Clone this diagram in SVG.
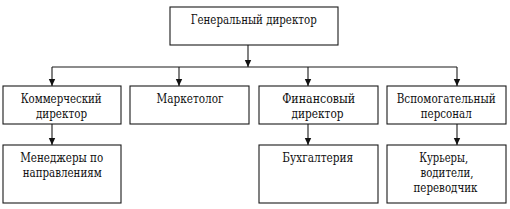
<svg xmlns="http://www.w3.org/2000/svg" width="510" height="209" viewBox="0 0 510 209">
<style>
.box{fill:#fff;stroke:#1a1a1a;stroke-width:1.1}
.ln{stroke:#1a1a1a;stroke-width:1.1;fill:none}
.t{font-family:'DejaVu Serif Condensed','DejaVu Serif',serif;font-size:12.5px;fill:#111;text-anchor:middle}
</style>
<defs>
<marker id="ah" markerWidth="8" markerHeight="8" refX="7" refY="3.5" orient="auto" markerUnits="userSpaceOnUse">
<path d="M0,0.3 L7,3.5 L0,6.7 Z" fill="#111"/>
</marker>
</defs>
<rect width="510" height="209" fill="#fff"/>
<g id="connectors">
<line class="ln" x1="248" y1="45" x2="248" y2="67" marker-end="url(#ah)"/>
<line class="ln" x1="52" y1="67" x2="457" y2="67"/>
<line class="ln" x1="52" y1="67" x2="52" y2="86" marker-end="url(#ah)"/>
<line class="ln" x1="179" y1="67" x2="179" y2="86" marker-end="url(#ah)"/>
<line class="ln" x1="308" y1="67" x2="308" y2="86" marker-end="url(#ah)"/>
<line class="ln" x1="457" y1="67" x2="457" y2="86" marker-end="url(#ah)"/>
<line class="ln" x1="52" y1="124" x2="52" y2="145" marker-end="url(#ah)"/>
<line class="ln" x1="308" y1="124" x2="308" y2="145" marker-end="url(#ah)"/>
<line class="ln" x1="457" y1="124" x2="457" y2="145" marker-end="url(#ah)"/>
</g>
<g id="gen"><rect class="box" x="170" y="7" width="168" height="38"/><text class="t" x="253.7" y="24" textLength="126" lengthAdjust="spacingAndGlyphs">Генеральный директор</text></g>
<g id="kom"><rect class="box" x="3" y="86" width="118" height="38"/><text class="t" x="61.2" y="103" textLength="81" lengthAdjust="spacingAndGlyphs">Коммерческий</text><text class="t" x="61.5" y="117.5" textLength="51" lengthAdjust="spacingAndGlyphs">директор</text></g>
<g id="mark"><rect class="box" x="130" y="86" width="119" height="38"/><text class="t" x="190" y="103" textLength="67" lengthAdjust="spacingAndGlyphs">Маркетолог</text></g>
<g id="fin"><rect class="box" x="259" y="86" width="119" height="38"/><text class="t" x="318.7" y="103" textLength="73" lengthAdjust="spacingAndGlyphs">Финансовый</text><text class="t" x="317.5" y="117.5" textLength="52" lengthAdjust="spacingAndGlyphs">директор</text></g>
<g id="vsp"><rect class="box" x="387" y="86" width="119" height="38"/><text class="t" x="446.2" y="103" textLength="99" lengthAdjust="spacingAndGlyphs">Вспомогательный</text><text class="t" x="446.2" y="117.5" textLength="51" lengthAdjust="spacingAndGlyphs">персонал</text></g>
<g id="men"><rect class="box" x="3" y="145" width="118" height="58"/><text class="t" x="61.7" y="162" textLength="83" lengthAdjust="spacingAndGlyphs">Менеджеры по</text><text class="t" x="62.2" y="177" textLength="79" lengthAdjust="spacingAndGlyphs">направлениям</text></g>
<g id="buh"><rect class="box" x="259" y="145" width="119" height="58"/><text class="t" x="317.8" y="162" textLength="71" lengthAdjust="spacingAndGlyphs">Бухгалтерия</text></g>
<g id="kur"><rect class="box" x="387" y="145" width="119" height="58"/><text class="t" x="443.7" y="162" textLength="49" lengthAdjust="spacingAndGlyphs">Курьеры,</text><text class="t" x="447" y="177" textLength="53" lengthAdjust="spacingAndGlyphs">водители,</text><text class="t" x="445.5" y="191.7" textLength="64" lengthAdjust="spacingAndGlyphs">переводчик</text></g>
</svg>
